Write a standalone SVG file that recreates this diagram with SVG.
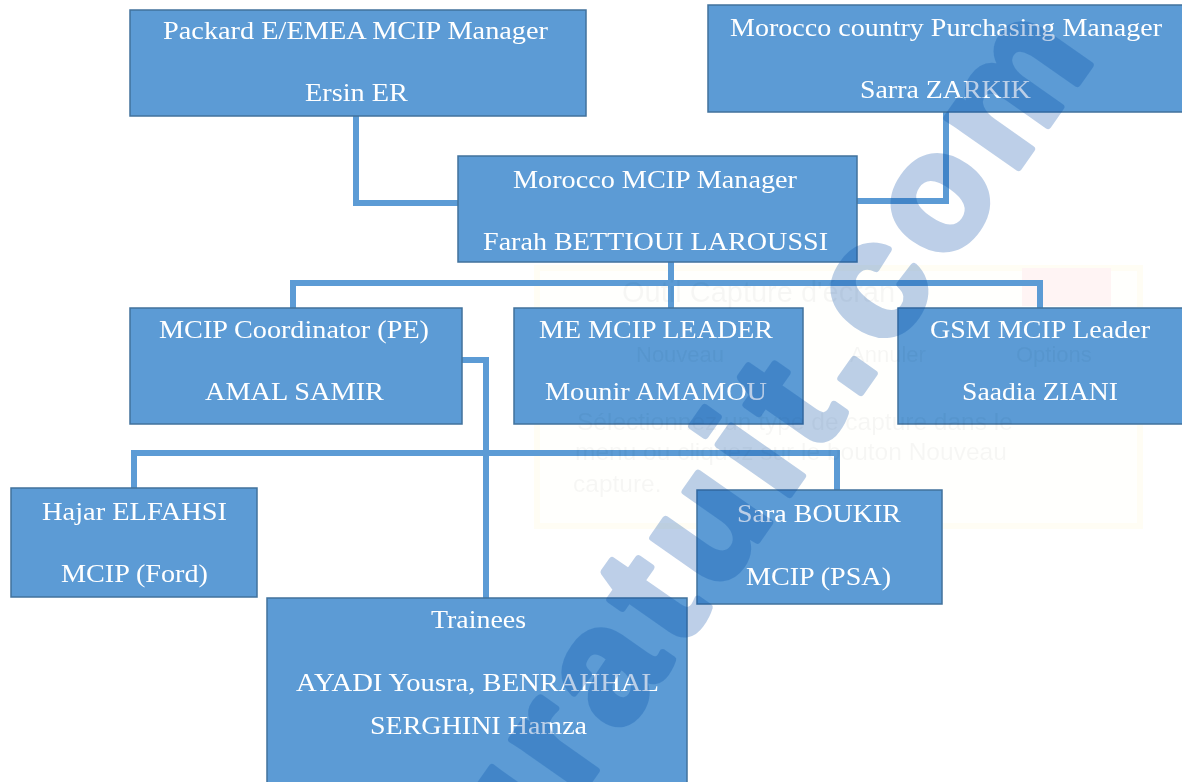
<svg xmlns="http://www.w3.org/2000/svg" width="1182" height="782" viewBox="0 0 1182 782">
<defs><filter id="soft" x="0" y="0" width="100%" height="100%" filterUnits="userSpaceOnUse" primitiveUnits="userSpaceOnUse"><feGaussianBlur stdDeviation="0.5"/></filter></defs>
<style>
.box{fill:#5b9bd5;stroke:#41719c;stroke-width:1.5}
.t{font-family:"Liberation Serif","Times New Roman",serif;font-size:26px;fill:#fff;text-anchor:middle}
.c{fill:none;stroke:#5b9bd5;stroke-width:6}
.g{font-family:"Liberation Sans",Arial,sans-serif;fill:#000;fill-opacity:.035}
.wm{font-family:"Liberation Sans",Arial,sans-serif;font-weight:700;font-size:165px;letter-spacing:12px;fill:#004aa6;stroke:#004aa6;stroke-width:7px;stroke-linejoin:round;opacity:.26}
</style>
<rect width="1182" height="782" fill="#fff"/>
<g filter="url(#soft)">
<g id="frame">
<rect x="537" y="268" width="603" height="258" fill="#fffffd" stroke="#fffdf4" stroke-width="6"/>
<rect x="1022" y="268" width="89" height="38" fill="#fff4f4"/>
</g>
<g id="connectors">
<path class="c" d="M356 116V203H458"/>
<path class="c" d="M946 112V201H857"/>
<path class="c" d="M671 262V308"/>
<path class="c" d="M293 308V283H1040V308"/>
<path class="c" d="M462 360H486V598"/>
<path class="c" d="M134 488V453H837V490"/>
</g>
<g id="packard"><rect class="box" x="130" y="10" width="456" height="106"/><text class="t" x="355.5" y="39" textLength="385" lengthAdjust="spacingAndGlyphs">Packard E/EMEA MCIP Manager</text><text class="t" x="356.5" y="101" textLength="103" lengthAdjust="spacingAndGlyphs">Ersin ER</text></g>
<g id="purchasing"><rect class="box" x="708" y="5" width="476" height="107"/><text class="t" x="946" y="35.500" textLength="432" lengthAdjust="spacingAndGlyphs">Morocco country Purchasing Manager</text><text class="t" x="945.5" y="97.500" textLength="171" lengthAdjust="spacingAndGlyphs">Sarra ZARKIK</text></g>
<g id="manager"><rect class="box" x="458" y="156" width="399" height="106"/><text class="t" x="655" y="187.500" textLength="284" lengthAdjust="spacingAndGlyphs">Morocco MCIP Manager</text><text class="t" x="655.5" y="249.500" textLength="345" lengthAdjust="spacingAndGlyphs">Farah BETTIOUI LAROUSSI</text></g>
<g id="coordinator"><rect class="box" x="130" y="308" width="332" height="116"/><text class="t" x="294" y="338" textLength="270" lengthAdjust="spacingAndGlyphs">MCIP Coordinator (PE)</text><text class="t" x="294.5" y="400" textLength="179" lengthAdjust="spacingAndGlyphs">AMAL SAMIR</text></g>
<g id="me-leader"><rect class="box" x="514" y="308" width="289" height="116"/><text class="t" x="656" y="338" textLength="234" lengthAdjust="spacingAndGlyphs">ME MCIP LEADER</text><text class="t" x="656" y="400" textLength="222" lengthAdjust="spacingAndGlyphs">Mounir AMAMOU</text></g>
<g id="gsm-leader"><rect class="box" x="898" y="308" width="286" height="116"/><text class="t" x="1040" y="338" textLength="220" lengthAdjust="spacingAndGlyphs">GSM MCIP Leader</text><text class="t" x="1040" y="400" textLength="156" lengthAdjust="spacingAndGlyphs">Saadia ZIANI</text></g>
<g id="hajar"><rect class="box" x="11" y="488" width="246" height="109"/><text class="t" x="134.5" y="520" textLength="185" lengthAdjust="spacingAndGlyphs">Hajar ELFAHSI</text><text class="t" x="134.5" y="582" textLength="147" lengthAdjust="spacingAndGlyphs">MCIP (Ford)</text></g>
<g id="sara"><rect class="box" x="697" y="490" width="245" height="114"/><text class="t" x="819" y="522" textLength="164" lengthAdjust="spacingAndGlyphs">Sara BOUKIR</text><text class="t" x="818.5" y="585" textLength="145" lengthAdjust="spacingAndGlyphs">MCIP (PSA)</text></g>
<g id="trainees"><rect class="box" x="267" y="598" width="420" height="190"/><text class="t" x="478.5" y="628" textLength="95" lengthAdjust="spacingAndGlyphs">Trainees</text><text class="t" x="477.5" y="691" textLength="363" lengthAdjust="spacingAndGlyphs">AYADI Yousra, BENRAHHAL</text><text class="t" x="478.5" y="734" textLength="217" lengthAdjust="spacingAndGlyphs">SERGHINI Hamza</text></g>
<g id="ghost">
<text class="g" x="622" y="302" font-size="29">Outil Capture d'écran</text>
<text class="g" x="636" y="362" font-size="22">Nouveau</text>
<text class="g" x="850" y="362" font-size="22">Annuler</text>
<text class="g" x="1016" y="362" font-size="22">Options</text>
<text class="g" x="577" y="430" font-size="24.500">Sélectionnez un type de capture dans le</text>
<text class="g" x="575" y="460" font-size="24.500">menu ou cliquez sur le bouton Nouveau</text>
<text class="g" x="573" y="492" font-size="24.500">capture.</text>
</g>
<text class="wm" transform="translate(512 891) rotate(-55)" id="watermark">gratuit.com</text>
</g>
</svg>
